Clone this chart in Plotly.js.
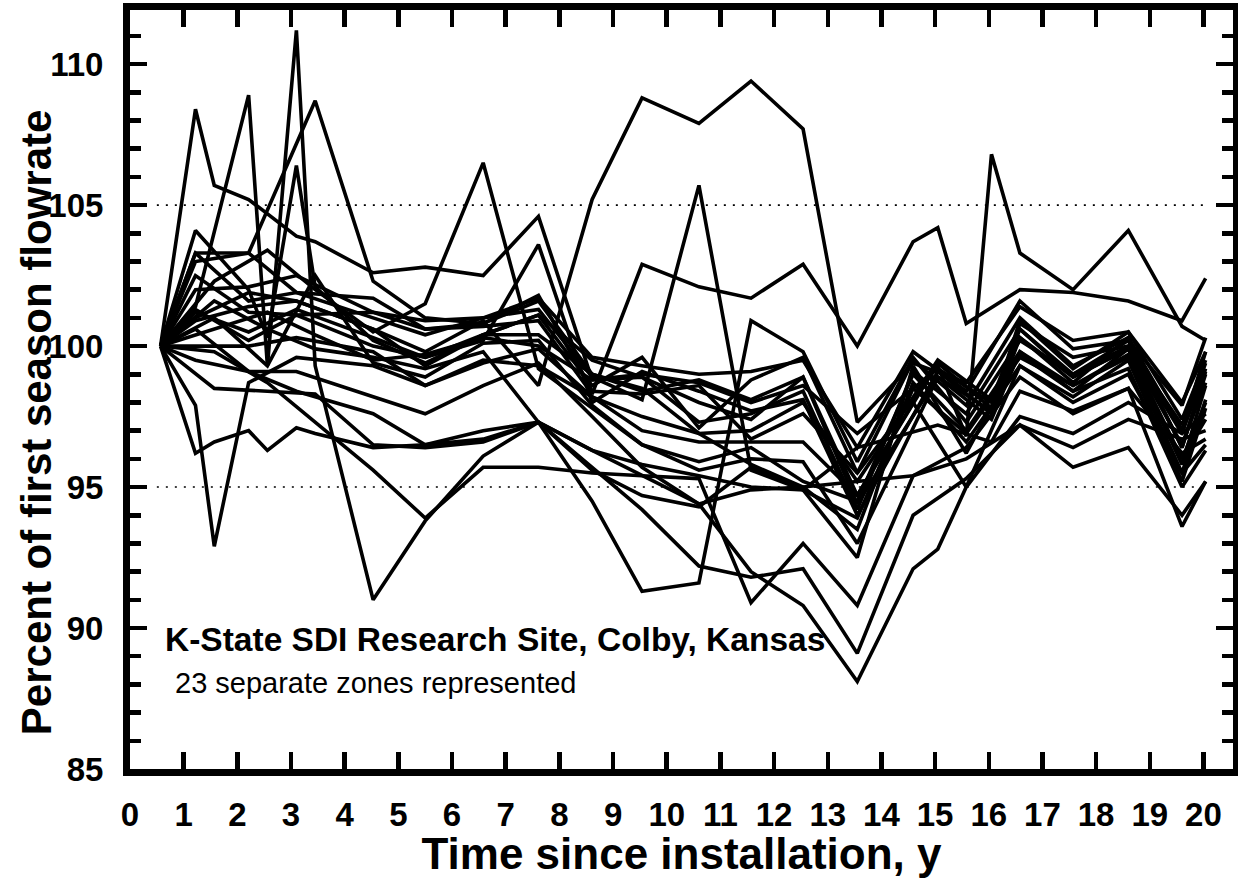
<!DOCTYPE html>
<html>
<head>
<meta charset="utf-8">
<script src="https://cdn.plot.ly/plotly-3.0.1.min.js"></script>
<style>html,body{margin:0;padding:0;background:#fff;}#chart{width:1238px;height:878px;}</style>
</head>
<body>
<div id="chart"></div>
<script>
// Measurement times (years since installation); null values = no reading at that time for a zone
const years = [0.57, 1.22, 1.57, 2.21, 2.56, 3.1, 3.45, 4.53, 5.5, 6.58, 7.61, 8.61, 9.54, 10.6, 11.57, 12.54, 13.55, 14.59, 15.05, 15.58, 16.05, 16.58, 17.57, 18.6, 19.6, 20.04];

const zone01 = [100,108.4,105.7,105.2,null,103.9,103.7,102.6,102.8,102.5,104.6,98.8,98.9,97.3,97.6,98.4,94.2,99.1,null,97.6,null,100.6,99.0,100.2,96.4,99.1];
const zone02 = [100,101.4,null,108.9,99.3,111.2,99.3,91.0,93.8,96.1,97.3,95.6,94.7,94.3,95.7,94.9,92.5,99.3,null,96.2,null,99.7,98.4,99.9,95.8,98.6];
const zone03 = [100,104.1,null,102.0,100.3,106.4,102.1,100.2,99.4,100.4,101.1,98.6,99.6,97.1,98.8,99.6,95.5,99.5,null,97.9,null,101.0,99.3,100.3,97.0,99.8];
const zone04 = [100,103.0,null,103.3,null,null,108.7,102.3,101.0,100.8,101.6,99.0,98.4,98.8,98.1,98.9,94.7,null,99.4,null,97.8,100.9,99.2,100.5,97.4,99.5];
const zone05 = [100,97.9,92.9,98.7,null,99.6,null,99.3,98.6,99.4,99.9,98.2,97.5,96.9,95.8,95.0,93.5,98.7,null,96.6,null,99.3,98.2,99.5,95.2,97.8];
const zone06 = [100,96.2,96.6,97.0,96.3,97.1,96.9,96.4,96.5,96.7,97.3,96.3,95.8,95.4,95.0,94.9,96.4,null,97.2,null,96.6,98.4,97.7,98.5,96.2,96.7];
const zone07 = [100,101.0,null,101.9,null,101.6,null,100.6,99.8,100.9,98.6,105.2,108.8,107.9,109.4,107.7,97.3,99.4,null,98.7,null,101.4,100.2,100.5,98.0,99.8];
const zone08 = [100,102.5,null,101.2,null,101.1,null,101.2,100.6,100.7,100.9,98.3,102.9,102.1,101.7,102.9,100.0,103.7,104.2,100.8,null,102.0,101.9,101.6,100.9,102.4];
const zone09 = [100,103.3,null,101.6,null,101.9,null,101.0,100.4,101.0,101.3,98.9,98.1,105.7,95.6,94.9,93.9,98.5,null,96.9,null,99.6,98.6,99.7,95.5,98.1];
const zone10 = [100,null,101.6,null,100.6,null,99.9,99.6,99.2,99.8,97.3,94.5,91.3,91.6,100.9,99.8,95.9,99.6,null,97.3,null,100.2,99.0,100.0,96.9,99.2];
const zone11 = [100,null,102.3,null,103.4,null,102.0,100.5,101.5,106.5,99.2,97.8,96.5,95.9,96.4,95.2,94.5,99.0,null,97.0,null,99.8,98.6,99.6,96.0,97.4];
const zone12 = [100,101.2,null,100.5,null,101.3,null,100.3,99.6,100.2,103.6,98.0,99.1,98.4,97.7,98.1,94.0,null,99.1,null,97.6,100.3,98.9,99.9,96.5,98.7];
const zone13 = [100,null,98.5,null,98.4,null,98.3,96.5,96.4,96.6,97.3,96.3,95.4,94.4,92.0,90.8,88.1,92.1,92.8,95.0,null,97.5,96.9,98.0,96.9,97.6];
const zone14 = [100,99.5,null,99.1,null,98.4,null,97.6,96.5,97.0,97.3,95.7,94.2,92.2,91.8,92.1,89.1,94.0,null,95.3,null,97.2,95.7,96.4,94.0,95.2];
const zone15 = [100,null,99.8,null,98.7,null,97.3,95.6,93.9,95.7,95.7,95.5,95.4,95.3,90.9,93.0,90.8,95.4,null,96.4,null,98.9,97.6,98.5,93.6,95.2];
const zone16 = [100,100.6,null,99.1,null,99.1,null,98.2,97.6,98.6,99.4,97.5,95.7,94.4,94.9,95.0,95.2,95.4,null,96.0,null,97.2,96.4,97.4,96.7,97.0];
const zone17 = [100,null,100.6,null,101.2,null,100.4,99.5,99.7,100.3,100.0,98.8,99.0,98.7,98.0,98.6,96.9,null,99.2,null,98.0,100.3,98.7,100.3,96.4,99.0];
const zone18 = [100,102.0,null,102.1,null,102.5,null,101.2,100.9,101.0,101.7,99.6,99.3,99.0,99.1,99.5,96.4,99.8,null,98.4,null,101.6,99.9,100.2,97.9,100.3];
const zone19 = [100,100.9,null,101.4,null,101.6,null,100.6,99.3,100.4,100.4,99.0,98.5,96.9,97.0,98.0,95.2,null,99.5,null,98.1,100.6,98.9,99.9,96.0,98.0];
const zone20 = [100,null,101.0,null,99.3,null,102.5,99.4,98.9,100.1,100.2,97.9,96.5,95.6,96.0,95.9,93.0,null,98.9,null,97.4,99.8,98.4,99.2,95.0,96.3];
const zone21 = [100,100.0,null,100.0,null,100.3,null,99.8,98.6,99.5,99.3,98.2,97.0,96.6,96.6,96.6,94.7,98.0,null,95.0,null,99.3,98.0,99.0,95.5,96.5];
const zone22 = [100,103.3,null,103.3,null,101.9,null,101.7,100.6,100.8,101.8,98.4,98.3,98.6,96.7,97.6,95.5,null,99.3,96.8,106.8,103.3,102.0,104.1,100.7,100.2];
const zone23 = [100,101.3,null,100.2,null,101.1,null,100.0,99.6,100.4,101.1,99.5,98.9,98.0,97.4,98.9,94.4,null,98.9,null,97.7,100.8,99.6,100.0,97.2,99.4];

const zones = [zone01,zone02,zone03,zone04,zone05,zone06,zone07,zone08,zone09,zone10,zone11,zone12,
               zone13,zone14,zone15,zone16,zone17,zone18,zone19,zone20,zone21,zone22,zone23];

// Dotted reference levels and their extent in years
const refLevels = [95, 105];
const refStart = 0.5, refEnd = 20;

const xTicks = [0,1,2,3,4,5,6,7,8,9,10,11,12,13,14,15,16,17,18,19,20];
const yTicks = [85,90,95,100,105,110];

const xTitle = "Time since installation, y";
const yTitle = "Percent of first season flowrate";
const titleText = "K-State SDI Research Site, Colby, Kansas";
const subText = "23 separate zones represented";

const FONT = "Liberation Sans, Arial, sans-serif";

const traces = zones.map((z, i) => ({
  x: years, y: z, type: 'scatter', mode: 'lines', connectgaps: true,
  line: {color: '#000', width: 3.6}, name: 'Zone ' + (i + 1), showlegend: false, hoverinfo: 'skip'
}));

const shapes = refLevels.map(v => ({
  type: 'line', xref: 'x', yref: 'y', x0: refStart, x1: refEnd, y0: v, y1: v,
  line: {color: '#000', width: 1.6, dash: '2px,7px'}, layer: 'below'
}));

const layout = {
  width: 1238, height: 878,
  margin: {l: 130, r: 5, t: 10, b: 109},
  paper_bgcolor: '#fff', plot_bgcolor: '#fff',
  showlegend: false,
  font: {family: FONT, color: '#000'},
  xaxis: {
    range: [0, 20.55], tickvals: xTicks, ticktext: xTicks.map(String),
    ticks: 'inside', ticklen: 17, tickwidth: 4.5, tickcolor: '#000',
    showline: true, linewidth: 7, linecolor: '#000', mirror: 'ticks',
    showgrid: false, zeroline: false,
    tickfont: {family: FONT, size: 33, color: '#000', weight: 'bold'},
    ticklabelstandoff: 10,
    title: {text: '<b>' + xTitle + '</b>', font: {family: FONT, size: 44, color: '#000'}, standoff: 9}
  },
  yaxis: {
    range: [85, 111.92], tickvals: yTicks, ticktext: yTicks.map(String),
    ticks: 'inside', ticklen: 17, tickwidth: 4.5, tickcolor: '#000',
    minor: {dtick: 1, tick0: 85, ticks: 'inside', ticklen: 11, tickwidth: 4.5, tickcolor: '#000'},
    showline: true, linewidth: 7, linecolor: '#000', mirror: 'ticks',
    showgrid: false, zeroline: false,
    tickfont: {family: FONT, size: 33, color: '#000', weight: 'bold'},
    ticklabelstandoff: 13
  },
  shapes: shapes,
  annotations: [
    {text: '<b>' + yTitle + '</b>', xref: 'paper', yref: 'paper', x: -0.0852, y: 0.457, xanchor: 'center', yanchor: 'middle',
     textangle: -90, showarrow: false, font: {family: FONT, size: 42, color: '#000'}},
    {text: '<b>' + titleText + '</b>', xref: 'paper', yref: 'paper', x: 0.030, y: 0.171, xanchor: 'left', yanchor: 'middle',
     showarrow: false, font: {family: FONT, size: 33.5, color: '#000'}},
    {text: subText, xref: 'paper', yref: 'paper', x: 0.039, y: 0.113, xanchor: 'left', yanchor: 'middle',
     showarrow: false, font: {family: FONT, size: 29, color: '#000'}}
  ]
};

Plotly.newPlot('chart', traces, layout, {staticPlot: true, displayModeBar: false});
</script>
</body>
</html>
